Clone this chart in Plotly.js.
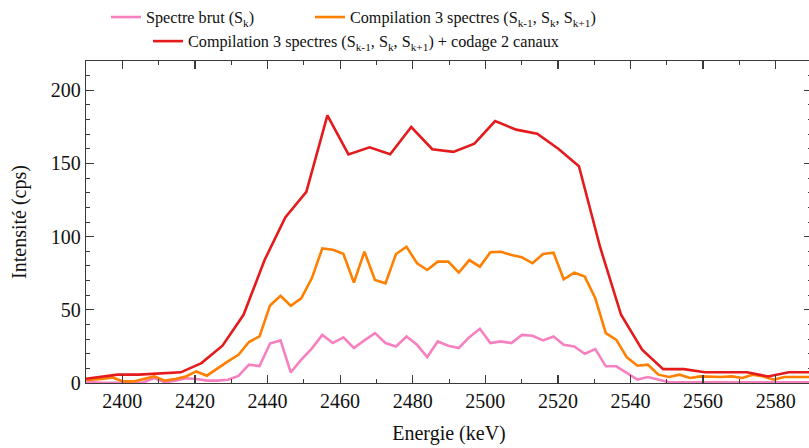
<!DOCTYPE html>
<html>
<head>
<meta charset="utf-8">
<script src="https://cdn.plot.ly/plotly-3.0.1.min.js"></script>
<style>
html,body{margin:0;padding:0;overflow:hidden;background:#fff;}
#chart{width:812px;height:448px;}
</style>
</head>
<body>
<div id="chart"></div>
<script>
// Energy grid (keV) of single channels
const energyChannels = [2388.6,2391.5,2394.4,2397.3,2400.2,2403.1,2405.9,2408.8,2411.7,2414.6,
  2417.5,2420.4,2423.3,2426.2,2429.1,2432.0,2434.9,2437.8,2440.7,2443.6,
  2446.4,2449.3,2452.2,2455.1,2458.0,2460.9,2463.8,2466.7,2469.6,2472.5,
  2475.4,2478.3,2481.2,2484.0,2486.9,2489.8,2492.7,2495.6,2498.5,2501.4,
  2504.3,2507.2,2510.1,2513.0,2515.9,2518.8,2521.6,2524.5,2527.4,2530.3,
  2533.2,2536.1,2539.0,2541.9,2544.8,2547.7,2550.6,2553.5,2556.4,2559.2,
  2562.1,2565.0,2567.9,2570.8,2573.7,2576.6,2579.5,2582.4,2585.3,2588.2,2591.1];

// Spectre brut (Sk)
const spectreBrut = [1.1,0.5,0.2,0.2,0.2,0.2,0.5,3.4,0.5,1.5,
  3.2,2.7,1.6,1.6,2.2,4.8,12.5,11.6,27.0,29.1,
  7.2,15.9,23.5,32.9,27.3,31.2,23.9,29.1,34.1,27.3,
  25.0,31.8,26.1,17.7,28.4,25.4,23.9,31.3,37.0,27.3,
  28.4,27.3,32.9,32.3,29.1,31.8,26.1,25.0,20.0,23.2,
  11.4,11.4,6.6,2.3,4.1,2.3,0.5,0.5,0.5,0.5,
  0.5,0.5,0.5,0.5,0.5,0.5,0.5,0.5,0.5,0.5,0.5];

// Compilation 3 spectres
const compilation3 = [1.8,2.2,2.7,3.8,1.1,1.1,2.9,4.5,1.6,2.7,
  4.5,7.9,5.0,10.2,14.8,19.3,28.0,31.8,53.0,59.6,
  52.8,57.9,71.5,92.0,91.0,88.3,68.6,89.7,70.4,68.1,
  88.1,93.1,81.8,77.2,82.9,82.9,75.4,84.0,79.5,89.3,
  89.7,87.4,85.9,81.8,88.1,89.0,70.9,75.4,72.7,57.9,
  34.1,29.5,17.5,11.8,12.5,5.7,4.1,5.7,3.4,4.5,
  4.1,4.1,4.5,3.4,5.7,4.5,2.3,4.1,4.1,4.1,4.1];

// Energy grid (keV) of 2-channel coding
const energyDouble = [2387.2,2393.0,2398.7,2404.5,2410.3,2416.1,2421.8,2427.6,2433.4,2439.2,
  2444.9,2450.7,2456.5,2462.3,2468.1,2473.8,2479.6,2485.4,2491.2,2497.0,
  2502.7,2508.5,2514.3,2520.1,2525.8,2531.6,2537.4,2543.2,2549.0,2554.7,
  2560.5,2566.3,2572.1,2577.9,2583.6,2589.4];

// Compilation 3 spectres + codage 2 canaux
const compilationCodage = [2.0,3.8,5.7,5.7,6.4,7.3,13.6,25.5,46.6,84.0,
  113.1,130.6,182.9,156.2,161.0,156.3,174.9,159.7,157.9,163.5,
  179.0,173.1,170.4,160.1,148.1,93.1,46.6,22.7,9.5,9.5,
  7.3,7.3,7.3,4.5,7.3,7.3];

const xTickVals = [2400,2420,2440,2460,2480,2500,2520,2540,2560,2580];
const yTickVals = [0,50,100,150,200];

const serif = 'Liberation Serif, DejaVu Serif, serif';
const axisColor = '#3a3a3a';

const traces = [
  {x: energyChannels, y: spectreBrut, mode:'lines', type:'scatter',
   name:'Spectre brut (S<sub>k</sub>)', legend:'legend',
   line:{color:'#f781bf', width:2.6}},
  {x: energyChannels, y: compilation3, mode:'lines', type:'scatter',
   name:'Compilation 3 spectres (S<sub>k-1</sub>, S<sub>k</sub>, S<sub>k+1</sub>)', legend:'legend2',
   line:{color:'#ff7f00', width:2.6}},
  {x: energyDouble, y: compilationCodage, mode:'lines', type:'scatter',
   name:'Compilation 3 spectres (S<sub>k-1</sub>, S<sub>k</sub>, S<sub>k+1</sub>) + codage 2 canaux', legend:'legend3',
   line:{color:'#e41a1c', width:2.6}}
];

const legendBase = {orientation:'h', xanchor:'left', yanchor:'middle', bgcolor:'rgba(0,0,0,0)',
  font:{family:serif, size:16.2, color:'#111'}, borderwidth:0};

const layout = {
  width:812, height:448,
  margin:{l:86, r:0, t:60, b:65},
  paper_bgcolor:'#fff', plot_bgcolor:'#fff',
  font:{family:serif, size:20, color:'#111'},
  showlegend:true,
  legend: Object.assign({}, legendBase, {x:0.0275, y:1.135}),
  legend2: Object.assign({}, legendBase, {x:0.3085, y:1.135}),
  legend3: Object.assign({}, legendBase, {x:0.0854, y:1.057}),
  xaxis:{
    range:[2390,2590], tickvals:xTickVals, ticktext:xTickVals.map(String),
    ticks:'inside', ticklen:8, tickwidth:1.2, tickcolor:axisColor,
    showline:true, linecolor:axisColor, linewidth:1.2, mirror:'ticks',
    showgrid:false, zeroline:false,
    minor:{dtick:10, tick0:2390, ticks:'inside', ticklen:4, tickcolor:axisColor, tickwidth:1, showgrid:false},
    tickfont:{family:serif, size:20, color:'#111'},
    title:{text:'Energie (keV)', font:{family:serif, size:20, color:'#111'}, standoff:14}
  },
  yaxis:{
    range:[0,220], tickvals:yTickVals, ticktext:yTickVals.map(String),
    ticks:'inside', ticklen:8, tickwidth:1.2, tickcolor:axisColor,
    showline:true, linecolor:axisColor, linewidth:1.2, mirror:'ticks',
    showgrid:false, zeroline:false,
    minor:{dtick:10, tick0:0, ticks:'inside', ticklen:4, tickcolor:axisColor, tickwidth:1, showgrid:false},
    tickfont:{family:serif, size:20, color:'#111'},
    title:{text:'Intensité (cps)', font:{family:serif, size:20, color:'#111'}, standoff:18}
  }
};

Plotly.newPlot('chart', traces, layout, {staticPlot:true, displayModeBar:false});
</script>
</body>
</html>
